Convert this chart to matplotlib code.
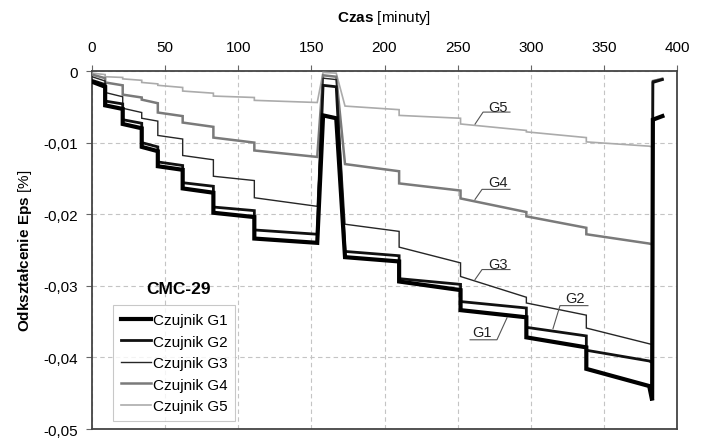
import matplotlib
matplotlib.use("Agg")
import matplotlib.pyplot as plt
from matplotlib.ticker import FuncFormatter, MultipleLocator

plt.rcParams['font.family'] = ['Liberation Sans', 'DejaVu Sans']
plt.rcParams['mathtext.fontset'] = 'custom'
plt.rcParams['mathtext.rm'] = 'Liberation Sans'
plt.rcParams['mathtext.bf'] = 'Liberation Sans:bold'

# vertex times [minutes]: load steps, unloading spike, steps, final unloading
time_min = [0, 9, 9, 21, 21, 34, 34, 45, 45, 62, 62, 83, 83, 111, 111, 154,
            158, 167, 173, 210, 210, 252, 252, 297, 297, 338, 338, 381, 383,
            383.5, 390]

eps_g1 = [-0.0015, -0.0022, -0.0048, -0.0053, -0.0074, -0.0080, -0.0106, -0.0112,
          -0.0133, -0.0138, -0.0164, -0.0170, -0.0198, -0.0204, -0.0234, -0.0240,
          -0.0062, -0.0066, -0.0260, -0.0266, -0.0294, -0.0306, -0.0334, -0.0344,
          -0.0372, -0.0386, -0.0416, -0.0440, -0.0460, -0.0068, -0.0063]
eps_g2 = [-0.0013, -0.0019, -0.0042, -0.0046, -0.0068, -0.0073, -0.0100, -0.0106,
          -0.0127, -0.0132, -0.0156, -0.0161, -0.0190, -0.0195, -0.0222, -0.0228,
          -0.0020, -0.0022, -0.0252, -0.0258, -0.0290, -0.0298, -0.0322, -0.0331,
          -0.0358, -0.0370, -0.0390, -0.0405, -0.0407, -0.0016, -0.0012]
eps_g3 = [-0.0008, -0.0014, -0.0030, -0.0036, -0.0052, -0.0058, -0.0066, -0.0070,
          -0.0090, -0.0095, -0.0118, -0.0124, -0.0147, -0.0153, -0.0177, -0.0189,
          -0.0010, -0.0012, -0.0214, -0.0224, -0.0246, -0.0268, -0.0287, -0.0316,
          -0.0324, -0.0341, -0.0359, -0.0381, -0.0382, -0.0014, -0.0011]
eps_g4 = [-0.0005, -0.0010, -0.0016, -0.0020, -0.0033, -0.0037, -0.0040, -0.0045,
          -0.0058, -0.0063, -0.0072, -0.0078, -0.0093, -0.0100, -0.0111, -0.0120,
          -0.0006, -0.0008, -0.0130, -0.0140, -0.0157, -0.0167, -0.0178, -0.0197,
          -0.0203, -0.0219, -0.0228, -0.0241, -0.0242, -0.0014, -0.0011]
eps_g5 = [-0.0003, -0.0005, -0.0008, -0.0009, -0.0011, -0.0013, -0.0016, -0.0018,
          -0.0020, -0.0023, -0.0028, -0.0031, -0.0035, -0.0037, -0.0041, -0.0044,
          -0.0002, -0.0003, -0.0049, -0.0054, -0.0062, -0.0066, -0.0074, -0.0083,
          -0.0085, -0.0093, -0.0099, -0.0105, -0.0106, -0.0014, -0.0010]

series_labels = ['Czujnik G1', 'Czujnik G2', 'Czujnik G3', 'Czujnik G4', 'Czujnik G5']
short_labels = ['G1', 'G2', 'G3', 'G4', 'G5']

# label text position and leader polyline (time, eps) for each sensor
label_pos = [(266.7, -0.0364), (330.3, -0.03165), (277.6, -0.02689),
             (277.6, -0.01548), (277.6, -0.00497)]
leader_t = [[258.5, 276.9, 283.8], [339.1, 320.0, 315.2], [285.8, 266.7, 261.9],
            [285.8, 266.7, 261.9], [285.8, 267.4, 261.9]]
leader_v = [[-0.03754, -0.03754, -0.03445], [-0.03277, -0.03277, -0.03599],
            [-0.02773, -0.02773, -0.02913], [-0.01653, -0.01653, -0.01793],
            [-0.00574, -0.00574, -0.00742]]

colors = ['#000000', '#111111', '#262626', '#7a7a7a', '#ababab']
widths = [3.0, 2.0, 1.0, 1.8, 1.2]

fig = plt.figure(figsize=(7.03, 4.39), dpi=100)
ax = fig.add_axes([92 / 703, 9 / 439, 585 / 703, 358 / 439])

all_series = [eps_g1, eps_g2, eps_g3, eps_g4, eps_g5]
# draw lighter lines first so the black ones stay on top
for i in reversed(range(5)):
    ax.plot(time_min, all_series[i], color=colors[i], linewidth=widths[i],
            label=series_labels[i], solid_joinstyle='miter', zorder=3 + (5 - i))

for i in range(5):
    ax.plot(leader_t[i], leader_v[i], color='#555555', linewidth=0.8, zorder=9)
    ax.text(label_pos[i][0], label_pos[i][1], short_labels[i], fontsize=10.5,
            color='#222222', ha='center', va='center', zorder=9)

ax.set_xlim(0, 400)
ax.set_ylim(-0.05, 0)
ax.xaxis.set_major_locator(MultipleLocator(50))
ax.yaxis.set_major_locator(MultipleLocator(0.01))
ax.xaxis.tick_top()
ax.xaxis.set_label_position('top')


def comma_fmt(v, pos):
    if abs(v) < 1e-9:
        return '0'
    return f'{v:.2f}'.replace('.', ',')


ax.yaxis.set_major_formatter(FuncFormatter(comma_fmt))
ax.tick_params(axis='both', labelsize=11, length=4, color='#666666', direction='out')
ax.tick_params(axis='x', pad=8)
ax.tick_params(axis='y', pad=6)

ax.grid(True, linestyle=(0, (4, 3)), color='#c4c4c4', linewidth=0.8)
for s in ax.spines.values():
    s.set_color('#444444')
    s.set_linewidth(1.3)

ax.set_xlabel(r'$\mathbf{Czas}$ [minuty]', fontsize=11, labelpad=14)
ax.set_ylabel(r'$\mathbf{Odkształcenie\ Eps}$ [%]', fontsize=11, labelpad=7)

ax.text(59.1, -0.0304, 'CMC-29', fontsize=12.5, fontweight='bold',
        ha='center', va='center', zorder=10)

handles, labels = ax.get_legend_handles_labels()
leg = ax.legend(handles[::-1], labels[::-1], loc='lower left',
                bbox_to_anchor=(0.036, 0.022), borderaxespad=0, fontsize=11,
                frameon=True, fancybox=False, edgecolor='#bbbbbb',
                handlelength=2.0, handletextpad=0.1, labelspacing=0.5,
                borderpad=0.5)
leg.get_frame().set_linewidth(0.8)
leg.set_zorder(12)

fig.savefig('out.png', dpi=100)
